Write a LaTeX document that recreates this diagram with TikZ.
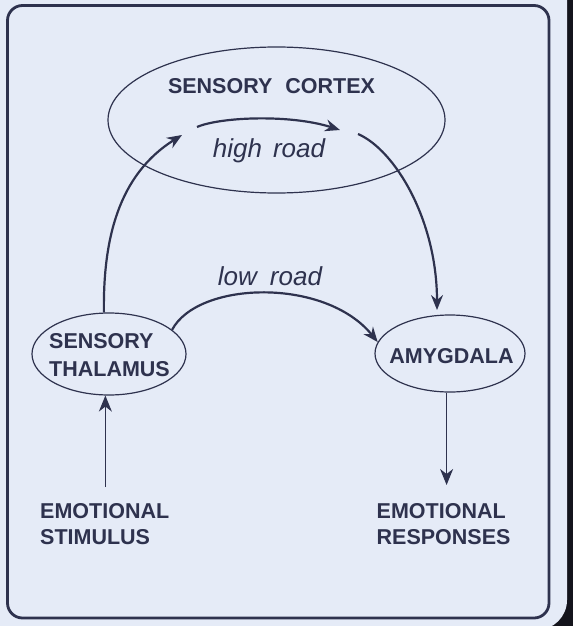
\documentclass[tikz,border=0pt]{standalone}
\usepackage{fontspec}
\setsansfont{Liberation Sans}
\usetikzlibrary{shapes.geometric,arrows.meta}
\definecolor{panelblue}{RGB}{229,235,247}
\definecolor{inknavy}{RGB}{46,50,78}
\definecolor{screendark}{RGB}{20,20,28}

\begin{document}
\begin{tikzpicture}[x=1pt,y=-1pt,
  oval/.style={ellipse,draw=inknavy,line width=1.2pt,inner sep=0pt},
  caps/.style={text=inknavy,inner sep=0pt,font=\sffamily\bfseries\fontsize{21.5}{26}\selectfont},
  roadlbl/.style={text=inknavy,inner sep=0pt,font=\sffamily\itshape\fontsize{26}{30}\selectfont},
  road/.style={inknavy,line width=2.2pt,-{Stealth[length=15pt,width=12pt,inset=5pt]}},
  feed/.style={inknavy,line width=1.4pt,-{Stealth[length=16pt,width=13pt,inset=5pt]}}]
\useasboundingbox (0,0) rectangle (573,626);
\fill[screendark] (0,0) rectangle (573,626);
\fill[panelblue,rounded corners=30pt] (-40,-40) rectangle (567,630);
\draw[inknavy,line width=2.8pt,rounded corners=15pt] (7.5,5.5) rectangle (549,618);

\node[oval,minimum width=337pt,minimum height=146pt] (cortex) at (276.5,120) {};
\node[caps,anchor=base] (cortexname) at (271.5,93) {SENSORY\hspace{13pt}CORTEX};
\node[roadlbl,anchor=base] (highname) at (269,157) {high\hspace{11pt}road};
\node[roadlbl,anchor=base] (lowname) at (270,285) {low\hspace{13pt}road};

\node[oval,minimum width=154pt,minimum height=82pt] (thal) at (109,354) {};
\node[caps,align=left,anchor=north west] (thalname) at (49,333) {SENSORY\\[2pt]THALAMUS};
\node[oval,minimum width=150pt,minimum height=77pt] (amyg) at (450,353.5) {};
\node[caps,anchor=base] (amygname) at (451.5,363) {AMYGDALA};

\node[caps,align=left,anchor=north west] (stim) at (40,503) {EMOTIONAL\\STIMULUS};
\node[caps,align=left,anchor=north west] (resp) at (376.5,503) {EMOTIONAL\\RESPONSES};

\coordinate (hrfrom) at (197,127);
\coordinate (hrto) at (340,130);
\coordinate (cortexin) at (182,135);
\coordinate (cortexout) at (358,134);
\coordinate (amygin) at (437,310);

\draw[road] (hrfrom) .. controls (220,117) and (290,114) .. (hrto);
\draw[road] (thal.97) .. controls (103,240) and (118,175) .. (cortexin);
\draw[road] (cortexout) .. controls (395,150) and (437,220) .. (amygin);
\draw[road] (thal.21) .. controls (198,281) and (325,277) .. (amyg.171);
\draw[feed,shorten <=16pt] (stim.north -| thal.265) -- (thal.265);
\draw[feed,shorten >=18pt] (amyg.265) -- (amyg.265 |- resp.north);
\end{tikzpicture}
\end{document}
